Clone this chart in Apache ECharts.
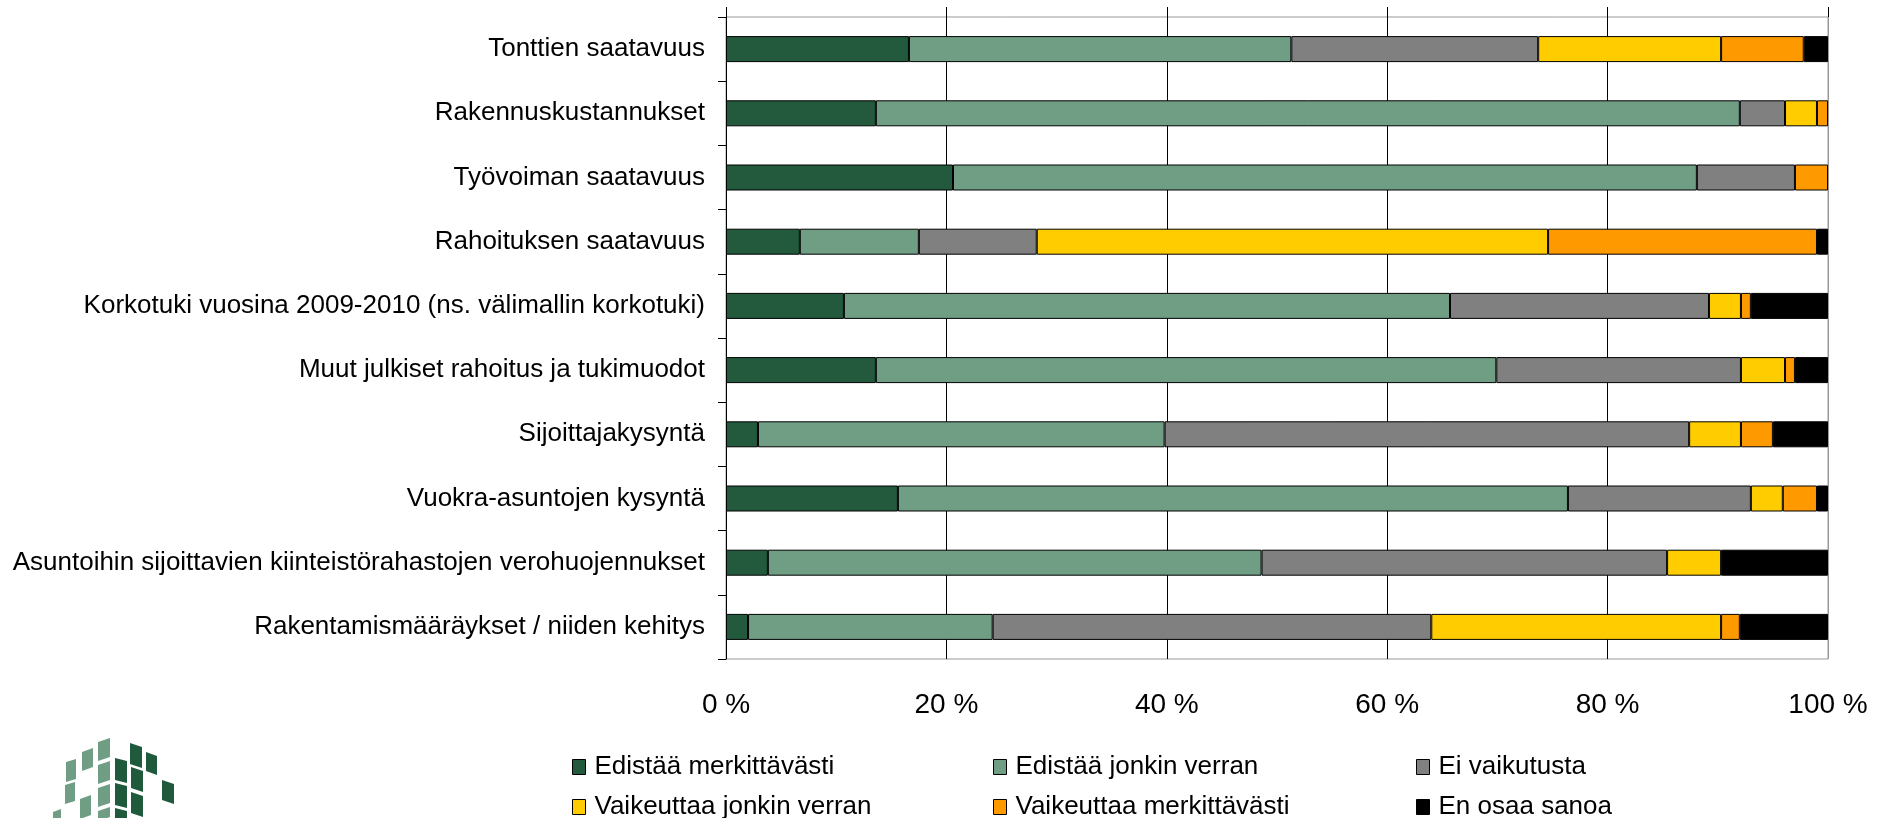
<!DOCTYPE html>
<html>
<head>
<meta charset="utf-8">
<title>Vaikutukset</title>
<script src="https://cdn.jsdelivr.net/npm/echarts@6/dist/echarts.min.js"></script>
<style>
  html, body { margin: 0; padding: 0; background: #fff; }
  #chart { width: 1890px; height: 818px; }
</style>
</head>
<body>
<div id="chart"></div>
<script>
const categories = [
  'Tonttien saatavuus',
  'Rakennuskustannukset',
  'Työvoiman saatavuus',
  'Rahoituksen saatavuus',
  'Korkotuki vuosina 2009-2010 (ns. välimallin korkotuki)',
  'Muut julkiset rahoitus ja tukimuodot',
  'Sijoittajakysyntä',
  'Vuokra-asuntojen kysyntä',
  'Asuntoihin sijoittavien kiinteistörahastojen verohuojennukset',
  'Rakentamismääräykset / niiden kehitys'
]
const seriesNames = [
  'Edistää merkittävästi',
  'Edistää jonkin verran',
  'Ei vaikutusta',
  'Vaikeuttaa jonkin verran',
  'Vaikeuttaa merkittävästi',
  'En osaa sanoa'
]
const colors = ['#235a3e', '#6f9e85', '#808080', '#ffcc00', '#ff9900', '#000000']

// prosenttiosuudet, luettu kuvasta
const edistaaMerkittavasti = [16.6, 13.6, 20.6, 6.7, 10.7, 13.6, 2.9, 15.6, 3.8, 2.0]
const edistaaJonkinVerran = [34.7, 78.4, 67.5, 10.8, 55.0, 56.3, 36.9, 60.8, 44.8, 22.2]
const eiVaikutusta = [22.4, 4.1, 8.9, 10.7, 23.5, 22.2, 47.6, 16.6, 36.8, 39.8]
const vaikeuttaaJonkinVerran = [16.6, 2.9, 0, 46.4, 2.9, 4.0, 4.7, 2.9, 4.9, 26.3]
const vaikeuttaaMerkittavasti = [7.5, 1.0, 3.0, 24.4, 0.9, 0.9, 2.9, 3.1, 0, 1.7]
const enOsaaSanoa = [2.2, 0, 0, 1.0, 7.0, 3.0, 5.0, 1.0, 9.7, 8.0]
const values = [edistaaMerkittavasti, edistaaJonkinVerran, eiVaikutusta,
  vaikeuttaaJonkinVerran, vaikeuttaaMerkittavasti, enOsaaSanoa]

const xTicks = [0, 20, 40, 60, 80, 100]

const font = "'Liberation Sans', Arial, sans-serif"

// legenda: 3 saraketta x 2 riviä
const legendLeft = [567, 988, 1411]
const legendTop = [749, 789]

// logon palat: x, y, leveys, korkeus, vinous
const logoPieces = [
  [66, 762, 10, 20, -3, '#6f9e85'], [65, 785, 10, 19, -3, '#6f9e85'], [53, 812, 8, 10, -3, '#6f9e85'],
  [82, 752, 11, 19, -4, '#6f9e85'], [80, 799, 11, 20, -4, '#6f9e85'],
  [98, 742, 12, 19, -4, '#6f9e85'], [98, 765, 12, 19, -4, '#6f9e85'], [98, 788, 12, 19, -4, '#6f9e85'], [98, 811, 12, 10, -4, '#6f9e85'],
  [115, 758, 12, 22, 3, '#1f5a3c'], [115, 783, 12, 22, 3, '#1f5a3c'], [115, 808, 12, 12, 3, '#1f5a3c'],
  [130, 743, 12, 21, 4, '#1f5a3c'], [131, 767, 12, 21, 4, '#1f5a3c'], [131, 792, 12, 21, 4, '#1f5a3c'],
  [146, 752, 11, 19, 4, '#1f5a3c'], [162, 780, 12, 20, 4, '#1f5a3c']
]

const chart = echarts.init(document.getElementById('chart'))

const option = {
  animation: false,
  backgroundColor: '#fff',
  textStyle: { fontFamily: font },
  grid: {
    left: 726,
    right: 62,
    top: 17,
    bottom: 159,
    show: true,
    borderColor: '#999',
    borderWidth: 1
  },
  legend: seriesNames.map((name, i) => ({
    left: legendLeft[i % 3],
    top: legendTop[Math.floor(i / 3)],
    itemWidth: 13,
    itemHeight: 15,
    icon: 'rect',
    data: [name],
    selectedMode: false,
    itemStyle: { borderColor: '#000', borderWidth: 1 },
    textStyle: { fontSize: 26, lineHeight: 26, color: '#000', fontFamily: font, padding: [0, 0, 0, 4] }
  })),
  xAxis: [
    {
      type: 'value',
      min: 0,
      max: 100,
      interval: 20,
      position: 'bottom',
      axisLine: { show: false },
      axisTick: { show: false },
      splitLine: {
        show: true,
        lineStyle: { color: ['#000', '#000', '#000', '#000', '#000', '#999'], width: 1 }
      },
      axisLabel: {
        fontSize: 28,
        color: '#000',
        margin: 32,
        fontFamily: font,
        formatter: (v) => (xTicks.includes(v) ? v + ' %' : '')
      }
    },
    {
      type: 'value',
      min: 0,
      max: 100,
      interval: 20,
      position: 'top',
      axisLine: { show: false },
      axisTick: { show: true, length: 10, lineStyle: { color: '#000' } },
      axisLabel: { show: false },
      splitLine: { show: false }
    }
  ],
  yAxis: {
    type: 'category',
    inverse: true,
    data: categories,
    axisLine: { show: true, lineStyle: { color: '#000', width: 1 } },
    axisTick: { show: true, length: 8, lineStyle: { color: '#000' } },
    axisLabel: { fontSize: 26, color: '#000', margin: 21, fontFamily: font },
    splitLine: { show: false }
  },
  series: seriesNames.map((name, i) => ({
    name: name,
    type: 'bar',
    stack: 'total',
    barWidth: 26,
    itemStyle: { color: colors[i], borderColor: '#000', borderWidth: 1 },
    data: values[i].map((v) => (v === 0 ? null : v))
  })),
  graphic: logoPieces.map(([x, y, w, h, s, c]) => ({
    type: 'polygon',
    shape: { points: [[x, y], [x + w, y + s], [x + w, y + s + h], [x, y + h]] },
    style: { fill: c }
  }))
}

chart.setOption(option)
</script>
</body>
</html>
